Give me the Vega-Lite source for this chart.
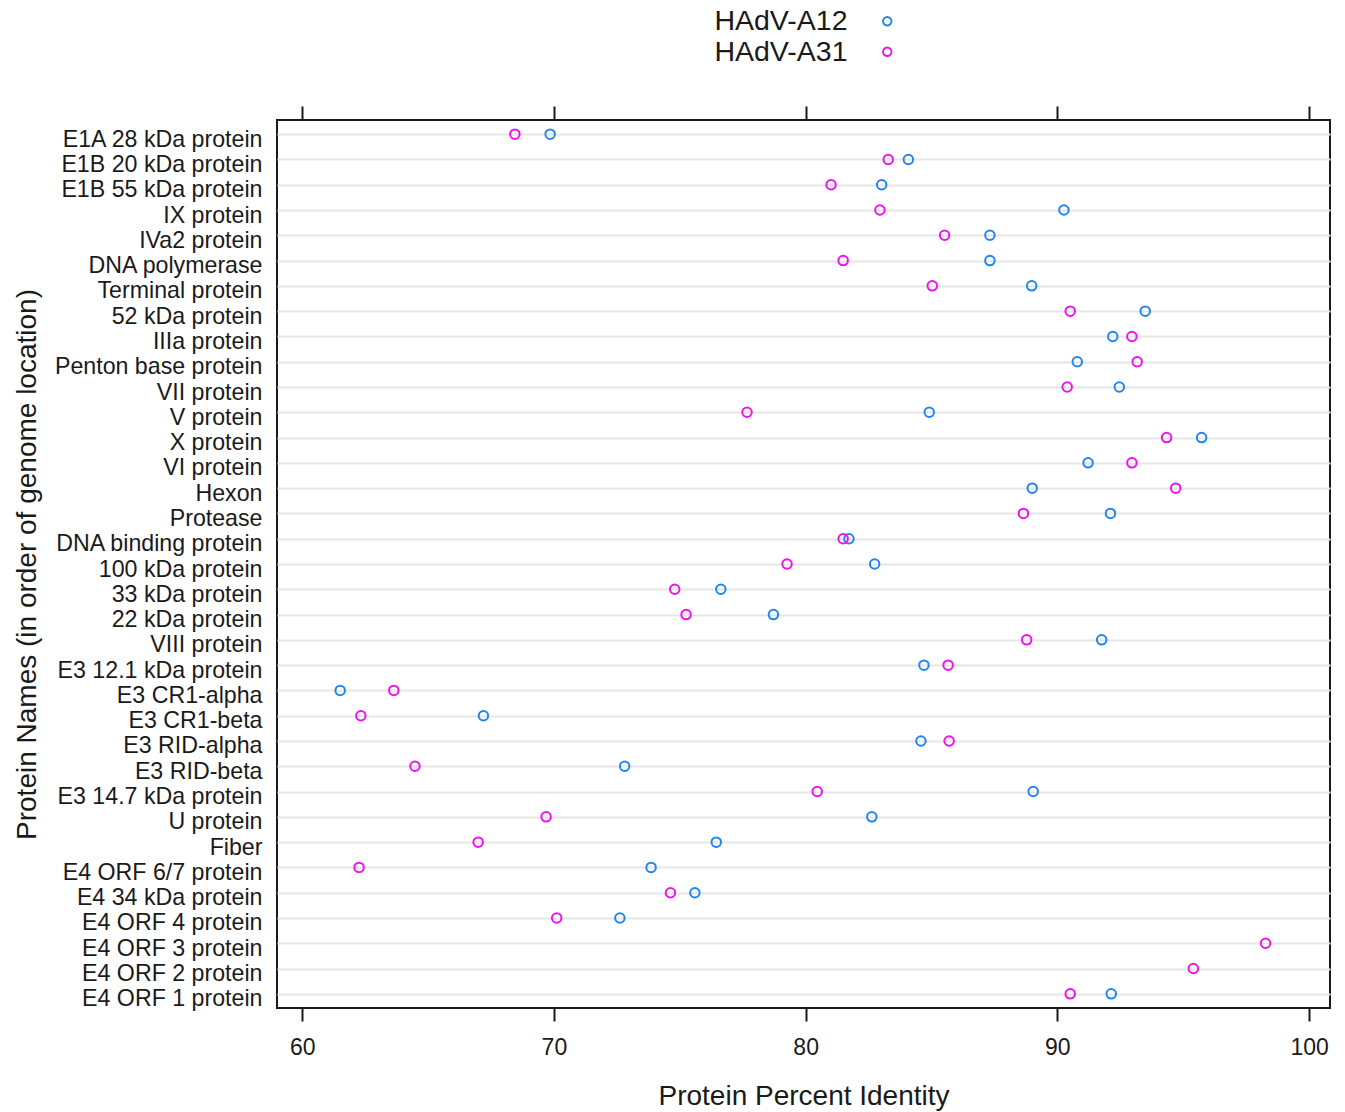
{
  "$schema": "https://vega.github.io/schema/vega-lite/v6.json",
  "width": 1053,
  "height": 888,
  "autosize": {"type": "none"},
  "padding": {"left": 277, "top": 120, "right": 15, "bottom": 104},
  "background": "white",
  "config": {
    "font": "Liberation Sans",
    "view": {"stroke": "#1a1a1a", "strokeWidth": 2},
    "axis": {"labelColor": "#1a1a1a", "titleColor": "#1a1a1a", "titleFontWeight": "normal"}
  },
  "data": {
    "values": [
      {"protein": "E1A 28 kDa protein", "strain": "HAdV-A12", "identity": 69.85},
      {"protein": "E1A 28 kDa protein", "strain": "HAdV-A31", "identity": 68.45},
      {"protein": "E1B 20 kDa protein", "strain": "HAdV-A12", "identity": 84.08},
      {"protein": "E1B 20 kDa protein", "strain": "HAdV-A31", "identity": 83.28},
      {"protein": "E1B 55 kDa protein", "strain": "HAdV-A12", "identity": 83.02},
      {"protein": "E1B 55 kDa protein", "strain": "HAdV-A31", "identity": 81.01},
      {"protein": "IX protein", "strain": "HAdV-A12", "identity": 90.26},
      {"protein": "IX protein", "strain": "HAdV-A31", "identity": 82.95},
      {"protein": "IVa2 protein", "strain": "HAdV-A12", "identity": 87.32},
      {"protein": "IVa2 protein", "strain": "HAdV-A31", "identity": 85.52},
      {"protein": "DNA polymerase", "strain": "HAdV-A12", "identity": 87.32},
      {"protein": "DNA polymerase", "strain": "HAdV-A31", "identity": 81.49},
      {"protein": "Terminal protein", "strain": "HAdV-A12", "identity": 88.98},
      {"protein": "Terminal protein", "strain": "HAdV-A31", "identity": 85.03},
      {"protein": "52 kDa protein", "strain": "HAdV-A12", "identity": 93.49},
      {"protein": "52 kDa protein", "strain": "HAdV-A31", "identity": 90.51},
      {"protein": "IIIa protein", "strain": "HAdV-A12", "identity": 92.2},
      {"protein": "IIIa protein", "strain": "HAdV-A31", "identity": 92.96},
      {"protein": "Penton base protein", "strain": "HAdV-A12", "identity": 90.79},
      {"protein": "Penton base protein", "strain": "HAdV-A31", "identity": 93.17},
      {"protein": "VII protein", "strain": "HAdV-A12", "identity": 92.46},
      {"protein": "VII protein", "strain": "HAdV-A31", "identity": 90.39},
      {"protein": "V protein", "strain": "HAdV-A12", "identity": 84.91},
      {"protein": "V protein", "strain": "HAdV-A31", "identity": 77.67},
      {"protein": "X protein", "strain": "HAdV-A12", "identity": 95.73},
      {"protein": "X protein", "strain": "HAdV-A31", "identity": 94.34},
      {"protein": "VI protein", "strain": "HAdV-A12", "identity": 91.22},
      {"protein": "VI protein", "strain": "HAdV-A31", "identity": 92.96},
      {"protein": "Hexon", "strain": "HAdV-A12", "identity": 89.0},
      {"protein": "Hexon", "strain": "HAdV-A31", "identity": 94.7},
      {"protein": "Protease", "strain": "HAdV-A12", "identity": 92.11},
      {"protein": "Protease", "strain": "HAdV-A31", "identity": 88.65},
      {"protein": "DNA binding protein", "strain": "HAdV-A12", "identity": 81.72},
      {"protein": "DNA binding protein", "strain": "HAdV-A31", "identity": 81.49},
      {"protein": "100 kDa protein", "strain": "HAdV-A12", "identity": 82.74},
      {"protein": "100 kDa protein", "strain": "HAdV-A31", "identity": 79.26},
      {"protein": "33 kDa protein", "strain": "HAdV-A12", "identity": 76.63},
      {"protein": "33 kDa protein", "strain": "HAdV-A31", "identity": 74.8},
      {"protein": "22 kDa protein", "strain": "HAdV-A12", "identity": 78.72},
      {"protein": "22 kDa protein", "strain": "HAdV-A31", "identity": 75.25},
      {"protein": "VIII protein", "strain": "HAdV-A12", "identity": 91.76},
      {"protein": "VIII protein", "strain": "HAdV-A31", "identity": 88.78},
      {"protein": "E3 12.1 kDa protein", "strain": "HAdV-A12", "identity": 84.7},
      {"protein": "E3 12.1 kDa protein", "strain": "HAdV-A31", "identity": 85.66},
      {"protein": "E3 CR1-alpha", "strain": "HAdV-A12", "identity": 61.51},
      {"protein": "E3 CR1-alpha", "strain": "HAdV-A31", "identity": 63.64},
      {"protein": "E3 CR1-beta", "strain": "HAdV-A12", "identity": 67.2},
      {"protein": "E3 CR1-beta", "strain": "HAdV-A31", "identity": 62.33},
      {"protein": "E3 RID-alpha", "strain": "HAdV-A12", "identity": 84.58},
      {"protein": "E3 RID-alpha", "strain": "HAdV-A31", "identity": 85.7},
      {"protein": "E3 RID-beta", "strain": "HAdV-A12", "identity": 72.81},
      {"protein": "E3 RID-beta", "strain": "HAdV-A31", "identity": 64.48},
      {"protein": "E3 14.7 kDa protein", "strain": "HAdV-A12", "identity": 89.04},
      {"protein": "E3 14.7 kDa protein", "strain": "HAdV-A31", "identity": 80.46},
      {"protein": "U protein", "strain": "HAdV-A12", "identity": 82.63},
      {"protein": "U protein", "strain": "HAdV-A31", "identity": 69.69},
      {"protein": "Fiber", "strain": "HAdV-A12", "identity": 76.45},
      {"protein": "Fiber", "strain": "HAdV-A31", "identity": 66.99},
      {"protein": "E4 ORF 6/7 protein", "strain": "HAdV-A12", "identity": 73.86},
      {"protein": "E4 ORF 6/7 protein", "strain": "HAdV-A31", "identity": 62.26},
      {"protein": "E4 34 kDa protein", "strain": "HAdV-A12", "identity": 75.6},
      {"protein": "E4 34 kDa protein", "strain": "HAdV-A31", "identity": 74.63},
      {"protein": "E4 ORF 4 protein", "strain": "HAdV-A12", "identity": 72.62},
      {"protein": "E4 ORF 4 protein", "strain": "HAdV-A31", "identity": 70.11},
      {"protein": "E4 ORF 3 protein", "strain": "HAdV-A31", "identity": 98.27},
      {"protein": "E4 ORF 2 protein", "strain": "HAdV-A31", "identity": 95.4},
      {"protein": "E4 ORF 1 protein", "strain": "HAdV-A12", "identity": 92.14},
      {"protein": "E4 ORF 1 protein", "strain": "HAdV-A31", "identity": 90.51}
    ]
  },
  "resolve": {"axis": {"x": "independent"}},
  "layer": [
    {
      "mark": {"type": "point", "filled": false, "shape": "circle", "size": 90, "strokeWidth": 2, "opacity": 1},
      "encoding": {
        "x": {
          "field": "identity",
          "type": "quantitative",
          "scale": {"domain": [59.0, 100.83], "nice": false, "zero": false},
          "axis": {
            "orient": "bottom",
            "title": "Protein Percent Identity",
            "titleFontSize": 28,
            "titlePadding": 23,
            "values": [60, 70, 80, 90, 100],
            "grid": false,
            "domain": false,
            "tickSize": 13,
            "tickWidth": 2,
            "tickColor": "#1a1a1a",
            "labelFontSize": 23,
            "labelPadding": 15,
            "labelFlush": false
          }
        },
        "y": {
          "field": "protein",
          "type": "nominal",
          "sort": null,
          "scale": {
            "type": "point",
            "padding": 0.56,
            "domain": ["E1A 28 kDa protein", "E1B 20 kDa protein", "E1B 55 kDa protein", "IX protein", "IVa2 protein", "DNA polymerase", "Terminal protein", "52 kDa protein", "IIIa protein", "Penton base protein", "VII protein", "V protein", "X protein", "VI protein", "Hexon", "Protease", "DNA binding protein", "100 kDa protein", "33 kDa protein", "22 kDa protein", "VIII protein", "E3 12.1 kDa protein", "E3 CR1-alpha", "E3 CR1-beta", "E3 RID-alpha", "E3 RID-beta", "E3 14.7 kDa protein", "U protein", "Fiber", "E4 ORF 6/7 protein", "E4 34 kDa protein", "E4 ORF 4 protein", "E4 ORF 3 protein", "E4 ORF 2 protein", "E4 ORF 1 protein"]
          },
          "axis": {
            "title": "Protein Names (in order of genome location)",
            "titleFontSize": 28,
            "titlePadding": 36,
            "ticks": false,
            "tickSize": 0,
            "domain": false,
            "grid": true,
            "gridColor": "#e6e6e6",
            "gridWidth": 2,
            "labelFontSize": 23.2,
            "labelPadding": 15,
            "labelOffset": 5,
            "labelLimit": 400
          }
        },
        "color": {
          "field": "strain",
          "type": "nominal",
          "scale": {"domain": ["HAdV-A12", "HAdV-A31"], "range": ["#1f86f0", "#f010f0"]},
          "legend": {
            "orient": "none",
            "legendX": 596,
            "legendY": -113,
            "title": null,
            "labelFontSize": 28.5,
            "labelColor": "#1a1a1a",
            "labelAlign": "right",
            "labelOffset": -54,
            "labelLimit": 400,
            "rowPadding": 1.5,
            "symbolType": "circle",
            "symbolSize": 72,
            "symbolStrokeWidth": 1.8
          }
        }
      }
    },
    {
      "mark": {"type": "point", "opacity": 0},
      "encoding": {
        "x": {
          "field": "identity",
          "type": "quantitative",
          "axis": {
            "orient": "top",
            "title": null,
            "labels": false,
            "values": [60, 70, 80, 90, 100],
            "grid": false,
            "domain": false,
            "tickSize": 14,
            "tickWidth": 2,
            "tickColor": "#1a1a1a"
          }
        }
      }
    }
  ]
}
